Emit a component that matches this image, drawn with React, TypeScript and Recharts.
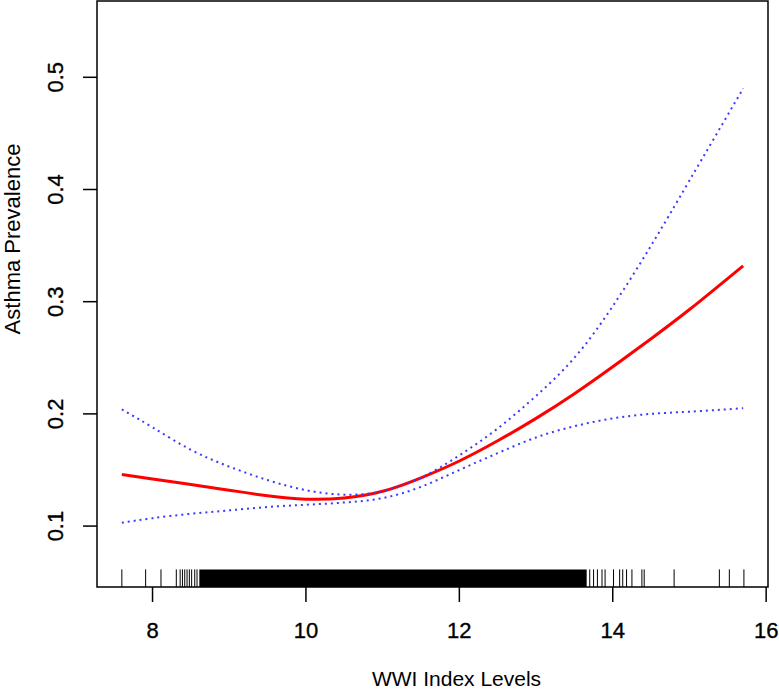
import {
  ComposedChart,
  Line,
  XAxis,
  YAxis,
  ReferenceArea,
  ReferenceLine,
} from "recharts";

// WWI index grid and smoothed fit
const wwi = [7.6, 8, 8.5, 9, 9.5, 10, 10.5, 11, 11.5, 12, 12.5, 13, 13.5, 14, 14.5, 15, 15.7];
const fitted = [0.146, 0.142, 0.137, 0.132, 0.127, 0.124, 0.125, 0.131, 0.143, 0.158, 0.176, 0.196, 0.218, 0.242, 0.267, 0.293, 0.332];
const upperCI = [0.204, 0.188, 0.168, 0.153, 0.141, 0.132, 0.128, 0.131, 0.143, 0.163, 0.187, 0.216, 0.25, 0.296, 0.35, 0.408, 0.49];
const lowerCI = [0.103, 0.107, 0.111, 0.114, 0.117, 0.119, 0.121, 0.125, 0.135, 0.15, 0.165, 0.179, 0.189, 0.196, 0.2, 0.202, 0.205];

// rug of observations: sparse single ticks + the solid dense band
const rugSingles = [
  7.6, 7.91, 8.11, 8.31, 8.36, 8.39, 8.42, 8.45, 8.48, 8.51, 8.55, 8.58,
  13.7, 13.75, 13.8, 13.86, 13.9, 14.01, 14.09, 14.13, 14.18, 14.25, 14.38,
  14.41, 14.8, 15.39, 15.52, 15.71,
];
const rugDense = [8.61, 13.66];

const xTicks = [8, 10, 12, 14, 16];
const yTicks = [0.1, 0.2, 0.3, 0.4, 0.5];
const xDomain: [number, number] = [7.276, 16.024];
const yDomain: [number, number] = [0.0457, 0.568];
const rugTop = 0.0614;

const FONT = "'Liberation Sans', Arial, Helvetica, sans-serif";

const data = wwi.map((x, i) => ({
  x,
  fit: fitted[i],
  upper: upperCI[i],
  lower: lowerCI[i],
}));

function XTick(props: any) {
  const { x, y, payload } = props;
  return (
    <text
      x={x}
      y={y}
      textAnchor="middle"
      fontSize={22}
      fontFamily={FONT}
      fill="#000"
      stroke="#000"
      strokeWidth={0.35}
    >
      {payload.value}
    </text>
  );
}

function YTick(props: any) {
  const { x, y, payload } = props;
  return (
    <text
      x={x}
      y={y}
      transform={`rotate(-90, ${x}, ${y})`}
      textAnchor="middle"
      fontSize={22}
      fontFamily={FONT}
      fill="#000"
      stroke="#000"
      strokeWidth={0.35}
    >
      {Number(payload.value).toFixed(1)}
    </text>
  );
}

export default function App() {
  return (
    <div style={{ position: "absolute", left: 0, top: 0, background: "#fff" }}>
      <ComposedChart
        width={779}
        height={693}
        data={data}
        margin={{ top: 1, right: 11, left: 0, bottom: 0 }}
      >
        <XAxis
          dataKey="x"
          type="number"
          domain={xDomain}
          ticks={xTicks}
          allowDataOverflow
          height={106}
          axisLine={false}
          tickSize={15}
          tickMargin={36}
          tickLine={{ stroke: "#000", strokeWidth: 1.5 }}
          tick={<XTick />}
          label={{
            content: (p: any) => {
              const vb = p.viewBox;
              return (
                <text
                  x={vb.x + vb.width / 2 + 24}
                  y={686}
                  textAnchor="middle"
                  fontSize={21}
                  fontFamily={FONT}
                  fill="#000"
                >
                  WWI Index Levels
                </text>
              );
            },
          }}
        />
        <YAxis
          type="number"
          domain={yDomain}
          ticks={yTicks}
          allowDataOverflow
          width={97}
          axisLine={false}
          tickSize={14}
          tickMargin={20}
          tickLine={{ stroke: "#000", strokeWidth: 1.5 }}
          tick={<YTick />}
          label={{
            content: () => (
              <text
                x={20}
                y={239}
                transform="rotate(-90, 20, 239)"
                textAnchor="middle"
                fontSize={22}
                fontFamily={FONT}
                fill="#000"
              >
                Asthma Prevalence
              </text>
            ),
          }}
        />

        <ReferenceArea
          x1={rugDense[0]}
          x2={rugDense[1]}
          y1={yDomain[0]}
          y2={rugTop}
          fill="#000"
          fillOpacity={1}
          stroke="none"
        />
        {rugSingles.map((v) => (
          <ReferenceLine
            key={v}
            segment={[
              { x: v, y: yDomain[0] },
              { x: v, y: rugTop },
            ]}
            stroke="#000"
            strokeWidth={1}
          />
        ))}

        <Line
          type="natural"
          dataKey="fit"
          stroke="#ff0000"
          strokeWidth={3}
          dot={false}
          isAnimationActive={false}
        />
        <Line
          type="natural"
          dataKey="upper"
          stroke="#3a3aff"
          strokeWidth={2}
          strokeDasharray="2 4"
          dot={false}
          isAnimationActive={false}
        />
        <Line
          type="natural"
          dataKey="lower"
          stroke="#3a3aff"
          strokeWidth={2}
          strokeDasharray="2 4"
          dot={false}
          isAnimationActive={false}
        />

        <ReferenceArea
          x1={xDomain[0]}
          x2={xDomain[1]}
          y1={yDomain[0]}
          y2={yDomain[1]}
          fill="none"
          stroke="#000"
          strokeWidth={1.5}
        />
      </ComposedChart>
    </div>
  );
}
